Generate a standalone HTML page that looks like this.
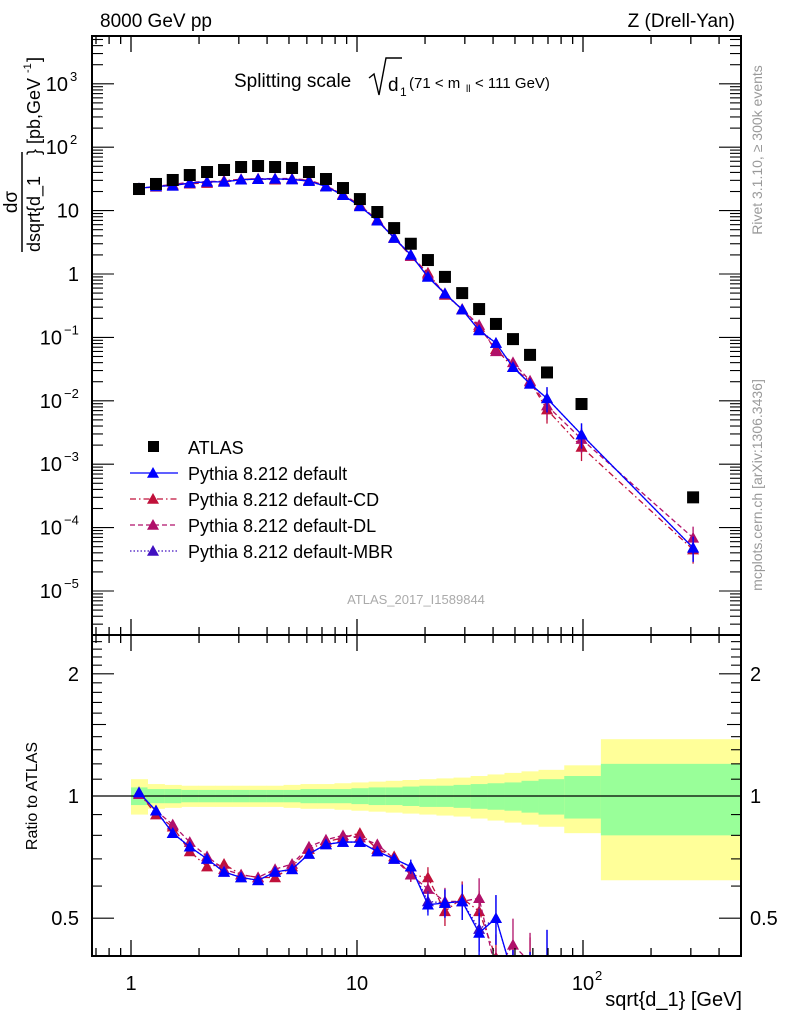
<!DOCTYPE html>
<html><head><meta charset="utf-8"><style>
html,body{margin:0;padding:0;background:#fff;width:786px;height:1024px;overflow:hidden}
svg{display:block;font-family:"Liberation Sans",sans-serif}
</style></head><body>
<svg id="chart" width="786" height="1024" viewBox="0 0 786 1024" xmlns="http://www.w3.org/2000/svg">
<defs>
<clipPath id="clipTop"><rect x="92" y="36" width="649" height="599"/></clipPath>
<clipPath id="clipBot"><rect x="92" y="636" width="649" height="319"/></clipPath>
</defs>
<g id="bands" clip-path="url(#clipBot)"></g>
<g id="series"></g>
<g id="axes"></g>
<text x="100" y="27" font-size="19">8000 GeV pp</text>
<text x="735" y="27" font-size="19" text-anchor="end">Z (Drell-Yan)</text>
<g>
<text x="234" y="87" font-size="19">Splitting scale</text>
<path d="M369 78 L374 74 L379 95 L386 58 L402 58" fill="none" stroke="#000" stroke-width="1.4"/>
<text x="388" y="91" font-size="19">d</text><text x="400" y="96" font-size="12">1</text>
<text x="409" y="88" font-size="15">(71 &lt; m</text><text x="466" y="92" font-size="10">ll</text><text x="475" y="88" font-size="15"> &lt; 111 GeV)</text>
</g>
<g transform="translate(40,252) rotate(-90)">
<text x="50" y="-23" font-size="19" text-anchor="middle">dσ</text>
<line x1="0" y1="-18" x2="100" y2="-18" stroke="#000" stroke-width="1.5"/>
<text x="0" y="0" font-size="18">dsqrt{d_1</text>
<text x="97" y="0" font-size="18">} [pb,GeV</text><text x="179" y="-9" font-size="11">-1</text><text x="190" y="0" font-size="18">]</text>
</g>
<text transform="translate(37,796) rotate(-90)" font-size="16" text-anchor="middle">Ratio to ATLAS</text>
<text x="742" y="1006" font-size="20" text-anchor="end">sqrt{d_1} [GeV]</text>
<text transform="translate(762,150) rotate(-90)" font-size="14" fill="#999" text-anchor="middle">Rivet 3.1.10, ≥ 300k events</text>
<text transform="translate(762,485) rotate(-90)" font-size="14" fill="#999" text-anchor="middle">mcplots.cern.ch [arXiv:1306.3436]</text>
<text x="416" y="604" font-size="13" fill="#aaa" text-anchor="middle">ATLAS_2017_I1589844</text>
<g id="legend"></g>
</svg>
<script>
const centers=[1.085,1.29,1.53,1.82,2.17,2.58,3.07,3.65,4.34,5.16,6.13,7.29,8.67,10.3,12.3,14.6,17.3,20.6,24.5,29.2,34.7,41.2,49.0,58.3,69.3,98.5,307];
const atlas=[21.9,26.3,30.4,36.4,40.6,43.7,48.7,50.5,48.7,47.0,40.6,31.5,22.7,15.2,9.5,5.3,3.0,1.66,0.90,0.50,0.28,0.163,0.094,0.053,0.028,0.0089,0.0003];
const ratioDefault=[1.02,0.92,0.81,0.75,0.70,0.65,0.63,0.62,0.65,0.66,0.72,0.76,0.77,0.77,0.73,0.70,0.67,0.54,0.545,0.55,0.46,0.50,0.36,0.35,0.39,0.33,0.16];
const ratioCD=[1.02,0.90,0.84,0.73,0.67,0.68,0.64,0.63,0.63,0.67,0.74,0.77,0.79,0.81,0.74,0.71,0.64,0.63,0.52,0.56,0.52,0.40,0.36,0.38,0.26,0.21,0.15];
const ratioDL=[1.01,0.92,0.85,0.77,0.71,0.66,0.64,0.63,0.66,0.68,0.75,0.78,0.80,0.79,0.76,0.70,0.64,0.59,0.55,0.55,0.56,0.37,0.43,0.39,0.30,0.28,0.23];
const ratioMBR=[1.02,0.92,0.81,0.75,0.70,0.65,0.63,0.62,0.65,0.66,0.72,0.76,0.77,0.77,0.73,0.70,0.67,0.55,0.545,0.55,0.47,0.50,0.36,0.35,0.39,0.33,0.16];
const greenErr=[0.05,0.04,0.04,0.035,0.035,0.035,0.035,0.035,0.035,0.035,0.04,0.04,0.04,0.045,0.05,0.05,0.055,0.06,0.06,0.065,0.07,0.075,0.08,0.09,0.1,0.12,0.2];
const yellowErr=[0.1,0.07,0.065,0.06,0.06,0.06,0.06,0.06,0.06,0.065,0.07,0.07,0.075,0.08,0.085,0.09,0.095,0.1,0.105,0.11,0.12,0.13,0.14,0.15,0.16,0.19,0.38];
const firstEdge=1.0, lastInnerEdge=120, lastEdge=500;
const yTopLabels=["10⁻⁵","10⁻⁴","10⁻³","10⁻²","10⁻¹","1","10","10²","10³"];
const NS="http://www.w3.org/2000/svg";
const X=v=>131+226*Math.log10(v);
const Y=v=>274-63.4*Math.log10(v);
const R=v=>Math.min(1015,796-406*Math.log10(v));
function mk(tag,attrs,parent){const e=document.createElementNS(NS,tag);for(const k in attrs)e.setAttribute(k,attrs[k]);parent.appendChild(e);return e;}
const bands=document.getElementById('bands'),ser=document.getElementById('series'),ax=document.getElementById('axes'),leg=document.getElementById('legend');
const edges=[firstEdge];
for(let i=1;i<centers.length-1;i++)edges.push(Math.sqrt(centers[i-1]*centers[i]));
edges.push(lastInnerEdge);edges.push(lastEdge);
for(let i=0;i<centers.length;i++){
 const x0=X(edges[i]),x1=Math.min(741,X(edges[i+1]));
 const y=mk('rect',{x:x0,y:R(1+yellowErr[i]),width:x1-x0+0.5,height:R(1-yellowErr[i])-R(1+yellowErr[i]),fill:'#ffff99'},bands);
 
 
 const g=mk('rect',{x:x0,y:R(1+greenErr[i]),width:x1-x0+0.5,height:R(1-greenErr[i])-R(1+greenErr[i]),fill:'#99ff99'},bands);
 
 
}
mk('line',{x1:92,y1:R(1),x2:741,y2:R(1),stroke:'#000','stroke-width':1.2},bands);
function tri(x,y,c,p,s){return mk('polygon',{points:`${x},${y-s} ${x-s},${y+s*0.8} ${x+s},${y+s*0.8}`,fill:c},p);}
const series=[
 {name:'default-CD',ratio:ratioCD,color:'#c0103a',dash:'6,3,1.5,3'},
 {name:'default-DL',ratio:ratioDL,color:'#b0106a',dash:'5,3'},
 {name:'default-MBR',ratio:ratioMBR,color:'#4010c0',dash:'1.5,2'},
 {name:'default',ratio:ratioDefault,color:'#0000ff',dash:''}
];
series.forEach(s=>{
 const gt=mk('g',{'clip-path':'url(#clipTop)'},ser);
 
 
 const gb=mk('g',{'clip-path':'url(#clipBot)'},ser);
 
 
 const pt=[],pb=[];
 centers.forEach((c,i)=>{const v=atlas[i]*s.ratio[i];pt.push(X(c)+','+Y(v));pb.push(X(c)+','+R(s.ratio[i]));});
 const a={fill:'none',stroke:s.color,'stroke-width':1.3};if(s.dash)a['stroke-dasharray']=s.dash;
 mk('polyline',Object.assign({points:pt.join(' ')},a),gt);
 mk('polyline',Object.assign({points:pb.join(' ')},a),gb);
 centers.forEach((c,i)=>{
  const v=atlas[i]*s.ratio[i];
  const m=tri(X(c),Y(v),s.color,gt,6);
  
  
  if(i>=16){const e=0.04+0.02*(i-16);
   mk('line',{x1:X(c),x2:X(c),y1:R(s.ratio[i]*(1+e)),y2:R(s.ratio[i]*(1-e)),stroke:s.color,'stroke-width':1.3},gb);}
  if(i>=24){mk('line',{x1:X(c),x2:X(c),y1:Y(v*1.5),y2:Y(v*0.6),stroke:s.color,'stroke-width':1.3},gt);}
  const r=tri(X(c),R(s.ratio[i]),s.color,gb,6);
  
  
 });
});
centers.forEach((c,i)=>{
 const q=mk('rect',{x:X(c)-6,y:Y(atlas[i])-6,width:12,height:12,fill:'#000'},ser);
 
 
});
[[36,635],[635,956]].forEach(([t,b])=>mk('rect',{x:92,y:t,width:649,height:b-t,fill:'none',stroke:'#000','stroke-width':2},ax));
function xticks(t,b){for(let d=-1;d<=2;d++)for(let k=1;k<10;k++){const v=k*Math.pow(10,d);const x=X(v);if(x<93||x>740)continue;const L=k==1?16:8;
 mk('line',{x1:x,x2:x,y1:b,y2:b-L,stroke:'#000','stroke-width':1.3},ax);mk('line',{x1:x,x2:x,y1:t,y2:t+L,stroke:'#000','stroke-width':1.3},ax);}}
xticks(36,635);xticks(635,956);
[['1',1],['10',10]].forEach(([l,v])=>{const t=mk('text',{x:X(v),y:990,'font-size':20,'text-anchor':'middle'},ax);t.textContent=l;});
const t2=mk('text',{x:X(100),y:990,'font-size':20,'text-anchor':'middle'},ax);t2.textContent='10';
const t2s=mk('text',{x:X(100)+12,y:980,'font-size':13},ax);t2s.textContent='2';
for(let d=-6;d<=3;d++)for(let k=1;k<10;k++){const v=k*Math.pow(10,d);const y=Y(v);if(y<37||y>634)continue;const L=k==1?22:11;
 mk('line',{x1:92,x2:92+L,y1:y,y2:y,stroke:'#000','stroke-width':1.1},ax);mk('line',{x1:741,x2:741-L,y1:y,y2:y,stroke:'#000','stroke-width':1.1},ax);}
yTopLabels.forEach((l,i)=>{const d=i-5;const y=Y(Math.pow(10,d));
 if(d>=2||d<=-1){const t=mk('text',{x:d>=0?68:62,y:y+7,'font-size':20,'text-anchor':'end'},ax);t.textContent='10';const s=mk('text',{x:d>=0?70:64,y:y-3,'font-size':13},ax);s.textContent=d>=0?String(d):'−'+(-d);}
 else{const t=mk('text',{x:79,y:y+7,'font-size':20,'text-anchor':'end'},ax);t.textContent=l;}});
for(let v=0.4;v<=2.45;v+=0.1){const y=R(v);if(y<636||y>955)continue;const vv=Math.round(v*10)/10;const L=(vv==1||vv==2||vv==0.5)?22:(vv==1.5?14:10);
 mk('line',{x1:92,x2:92+L,y1:y,y2:y,stroke:'#000','stroke-width':1.1},ax);mk('line',{x1:741,x2:741-L,y1:y,y2:y,stroke:'#000','stroke-width':1.1},ax);}
[['2',2],['1',1],['0.5',0.5]].forEach(([l,v])=>{const a=mk('text',{x:79,y:R(v)+7,'font-size':20,'text-anchor':'end'},ax);a.textContent=l;
 const b=mk('text',{x:750,y:R(v)+7,'font-size':20},ax);b.textContent=l;});
const legItems=[{label:'ATLAS'},{label:'Pythia 8.212 default',color:'#0000ff',dash:''},{label:'Pythia 8.212 default-CD',color:'#c0103a',dash:'6,3,1.5,3'},{label:'Pythia 8.212 default-DL',color:'#b0106a',dash:'5,3'},{label:'Pythia 8.212 default-MBR',color:'#4010c0',dash:'1.5,2'}];
legItems.forEach((it,i)=>{const y=447+26*i;const g=mk('g',{},leg);
 
 
 if(!it.color){mk('rect',{x:148,y:y-6,width:11,height:11,fill:'#000'},g);}
 else{const a={x1:130,x2:178,y1:y,y2:y,stroke:it.color,'stroke-width':1.3};if(it.dash)a['stroke-dasharray']=it.dash;mk('line',a,g);tri(153,y,it.color,g,6);}
 const t=mk('text',{x:188,y:y+7,'font-size':18},g);t.textContent=it.label;});
</script>
</body></html>
